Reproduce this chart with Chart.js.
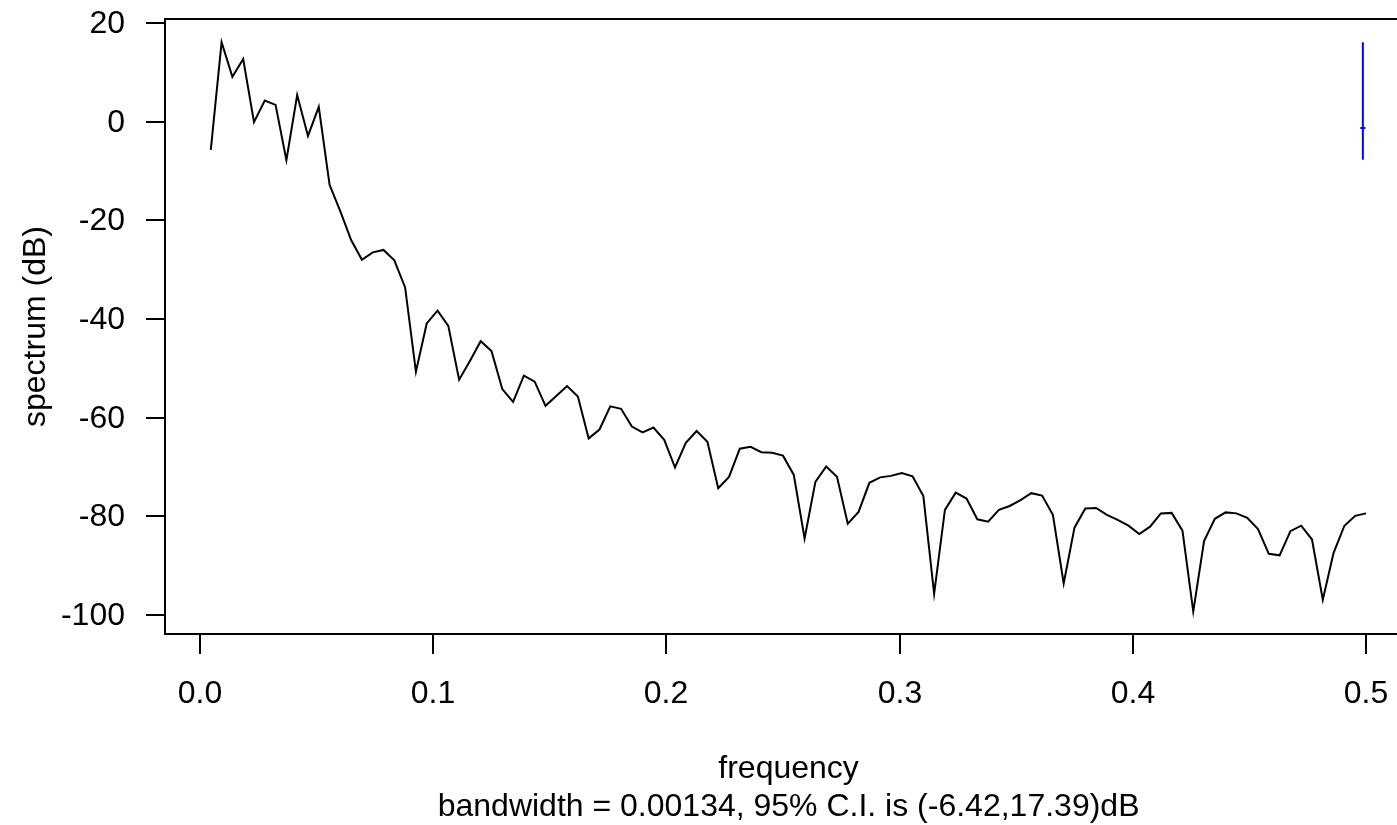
<!DOCTYPE html>
<html>
<head>
<meta charset="utf-8">
<script src="https://cdn.jsdelivr.net/npm/chart.js@4/dist/chart.umd.min.js"></script>
<style>
  html, body { margin: 0; padding: 0; background: #fff; overflow: hidden; }
  #wrap { width: 1397px; height: 825px; }
</style>
</head>
<body>
<div id="wrap"><canvas id="chart" width="1397" height="825"></canvas></div>
<script>
"use strict";

// Periodogram frequencies (cycles per observation)
const freqs = [
  0.00463, 0.00926, 0.01389, 0.01852, 0.02315, 0.02778, 0.03241, 0.03704, 0.04167, 0.0463,
  0.05093, 0.05556, 0.06019, 0.06481, 0.06944, 0.07407, 0.0787, 0.08333, 0.08796, 0.09259,
  0.09722, 0.10185, 0.10648, 0.11111, 0.11574, 0.12037, 0.125, 0.12963, 0.13426, 0.13889,
  0.14352, 0.14815, 0.15278, 0.15741, 0.16204, 0.16667, 0.1713, 0.17593, 0.18056, 0.18519,
  0.18981, 0.19444, 0.19907, 0.2037, 0.20833, 0.21296, 0.21759, 0.22222, 0.22685, 0.23148,
  0.23611, 0.24074, 0.24537, 0.25, 0.25463, 0.25926, 0.26389, 0.26852, 0.27315, 0.27778,
  0.28241, 0.28704, 0.29167, 0.2963, 0.30093, 0.30556, 0.31019, 0.31481, 0.31944, 0.32407,
  0.3287, 0.33333, 0.33796, 0.34259, 0.34722, 0.35185, 0.35648, 0.36111, 0.36574, 0.37037,
  0.375, 0.37963, 0.38426, 0.38889, 0.39352, 0.39815, 0.40278, 0.40741, 0.41204, 0.41667,
  0.4213, 0.42593, 0.43056, 0.43519, 0.43981, 0.44444, 0.44907, 0.4537, 0.45833, 0.46296,
  0.46759, 0.47222, 0.47685, 0.48148, 0.48611, 0.49074, 0.49537, 0.5
];

// Spectrum estimate in dB
const spectrumDb = [
  -5.7, 16.1, 9.1, 12.7, -0.1, 4.3, 3.4, -7.8, 5.4, -2.9,
  3.0, -12.8, -18.2, -24.0, -28.0, -26.5, -26.0, -28.1, -33.6, -50.7,
  -40.9, -38.3, -41.4, -52.3, -48.5, -44.5, -46.5, -54.2, -56.8, -51.5,
  -52.7, -57.6, -55.6, -53.6, -55.7, -64.2, -62.4, -57.7, -58.2, -61.8,
  -63.0, -62.0, -64.5, -70.1, -65.1, -62.7, -64.9, -74.3, -72.0, -66.3,
  -65.9, -67.0, -67.1, -67.7, -71.6, -84.5, -73.0, -69.9, -72.0, -81.5,
  -79.1, -73.2, -72.1, -71.8, -71.2, -71.9, -75.9, -95.7, -78.7, -75.2,
  -76.4, -80.6, -81.1, -78.7, -77.9, -76.7, -75.3, -75.8, -79.7, -93.6,
  -82.3, -78.4, -78.3, -79.7, -80.7, -81.9, -83.6, -82.1, -79.4, -79.3,
  -82.9, -99.3, -85.0, -80.5, -79.2, -79.4, -80.3, -82.6, -87.6, -87.9,
  -83.0, -81.9, -84.7, -96.9, -87.4, -81.9, -79.9, -79.4
];

// Confidence interval bar (drawn at max freq - bandwidth)
const bandwidth = 0.00134;
const ciX = 0.49866;
const ciLowHigh = [-7.71, 16.1];
const ciCenter = -1.29;

const xTicks = [0, 0.1, 0.2, 0.3, 0.4, 0.5];
const xTickLabels = ["0.0", "0.1", "0.2", "0.3", "0.4", "0.5"];
const yTicks = [-100, -80, -60, -40, -20, 0, 20];

const xTitle = "frequency";
const subTitle = "bandwidth = 0.00134, 95% C.I. is (-6.42,17.39)dB";
const yTitle = "spectrum (dB)";

const FONT = '32px "Liberation Sans", Arial, Helvetica, sans-serif';

// R-style axes, box and titles
const rAxes = {
  id: "rAxes",
  afterDraw(chart) {
    const { ctx, chartArea: a, scales } = chart;
    const xs = scales.x, ys = scales.y;
    ctx.save();
    ctx.strokeStyle = "#000";
    ctx.fillStyle = "#000";
    ctx.lineWidth = 2;

    // box (right side falls outside the page)
    ctx.beginPath();
    ctx.moveTo(a.right + 20, a.top);
    ctx.lineTo(a.left, a.top);
    ctx.lineTo(a.left, a.bottom);
    ctx.lineTo(a.right + 20, a.bottom);
    ctx.stroke();

    ctx.font = FONT;

    // y ticks
    ctx.textAlign = "right";
    ctx.textBaseline = "middle";
    yTicks.forEach((v) => {
      const py = Math.round(ys.getPixelForValue(v));
      ctx.beginPath();
      ctx.moveTo(a.left - 19, py);
      ctx.lineTo(a.left, py);
      ctx.stroke();
      ctx.fillText(String(v), 125, py + 1);
    });

    // x ticks
    ctx.textAlign = "center";
    xTicks.forEach((v, i) => {
      const px = Math.round(xs.getPixelForValue(v));
      ctx.beginPath();
      ctx.moveTo(px, a.bottom);
      ctx.lineTo(px, a.bottom + 20);
      ctx.stroke();
      ctx.fillText(xTickLabels[i], px, 694);
    });

    // titles
    const midX = (xs.getPixelForValue(xs.min) + xs.getPixelForValue(0.5198)) / 2;
    ctx.fillText(xTitle, midX, 769);
    ctx.fillText(subTitle, midX, 807);

    ctx.translate(36, (a.top + a.bottom) / 2);
    ctx.rotate(-Math.PI / 2);
    ctx.fillText(yTitle, 0, 0);
    ctx.restore();
  },
};

new Chart(document.getElementById("chart").getContext("2d"), {
  type: "scatter",
  data: {
    datasets: [
      {
        data: freqs.map((f, i) => ({ x: f, y: spectrumDb[i] })),
        showLine: true,
        borderColor: "#000",
        borderWidth: 2,
        pointRadius: 0,
        tension: 0,
      },
      {
        data: ciLowHigh.map((v) => ({ x: ciX, y: v })),
        showLine: true,
        borderColor: "#0000ff",
        borderWidth: 2,
        pointRadius: 0,
      },
      {
        data: [
          { x: ciX - bandwidth / 2, y: ciCenter },
          { x: ciX + bandwidth / 2, y: ciCenter },
        ],
        showLine: true,
        borderColor: "#0000ff",
        borderWidth: 2,
        borderCapStyle: "square",
        pointRadius: 0,
      },
    ],
  },
  options: {
    responsive: false,
    devicePixelRatio: 1,
    animation: false,
    layout: { padding: { left: 165, top: 19, right: 0, bottom: 191 } },
    plugins: { legend: { display: false }, tooltip: { enabled: false } },
    scales: {
      x: { type: "linear", display: false, min: -0.01501, max: 0.5133 },
      y: { type: "linear", display: false, min: -103.85, max: 20.81 },
    },
  },
  plugins: [rAxes],
});
</script>
</body>
</html>
